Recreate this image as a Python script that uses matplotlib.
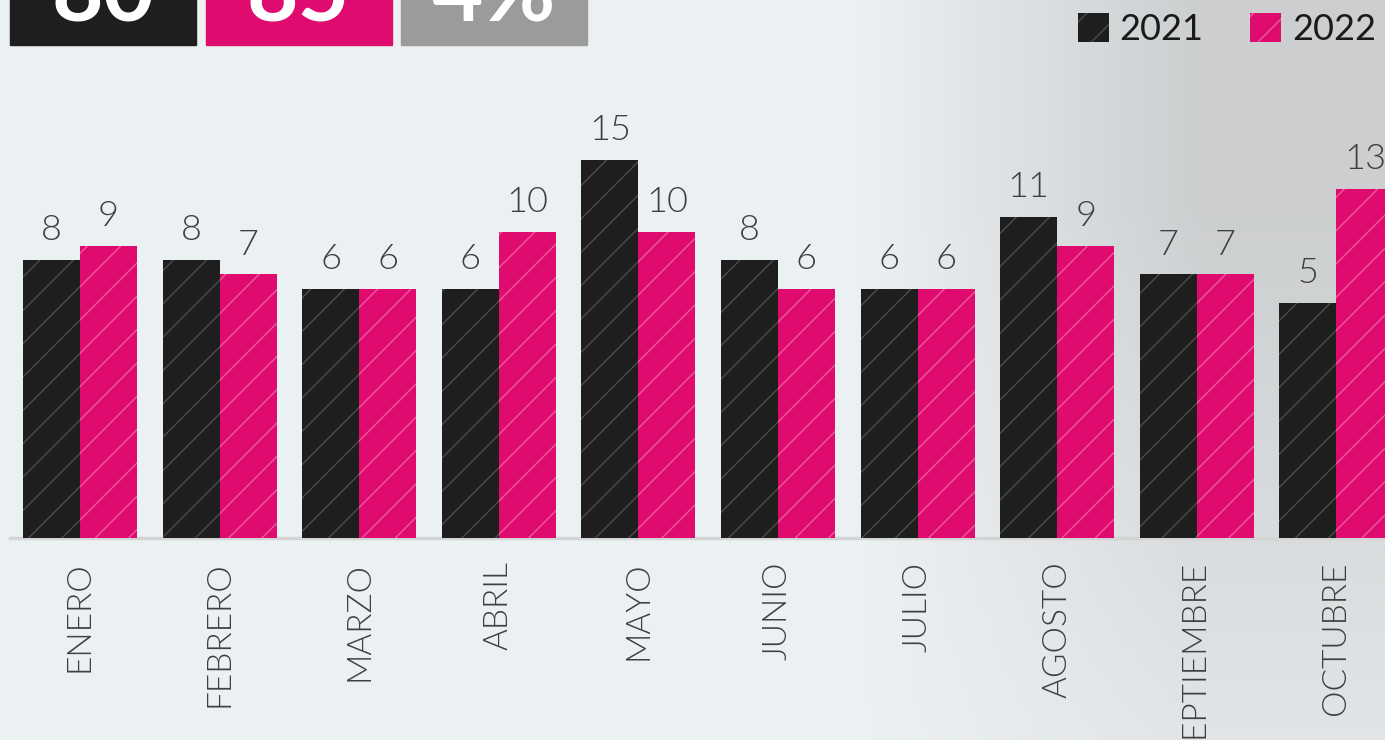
import numpy as np
import matplotlib
matplotlib.use("Agg")
import matplotlib.pyplot as plt
from matplotlib.patches import Patch, Rectangle

# ==========================================
# データ
# ==========================================
meses = ["ENERO", "FEBRERO", "MARZO", "ABRIL", "MAYO", "JUNIO",
         "JULIO", "AGOSTO", "SEPTIEMBRE", "OCTUBRE"]
valores_2021 = [8, 8, 6, 6, 15, 8, 6, 11, 7, 5]
valores_2022 = [9, 7, 6, 10, 10, 6, 6, 9, 7, 13]
series = ["2021", "2022"]

# 上部の集計ボックス
totales = ["80", "85", "4%"]
colores_caja = ["#1e1e1e", "#df0b6f", "#9b9b9b"]

NEGRO = "#1e1e1e"
ROSA = "#df0b6f"
TEXTO = "#3f3f3f"

plt.rcParams["font.family"] = ["Lato", "DejaVu Sans"]
plt.rcParams["hatch.linewidth"] = 1.0

W, H = 1385, 740
fig = plt.figure(figsize=(W / 100, H / 100), dpi=100)

# --- 背景（淡いグラデーション）---
bg = fig.add_axes([0, 0, 1, 1], zorder=-10)
xx, yy = np.meshgrid(np.linspace(0, 1, 300), np.linspace(0, 1, 160))
mix = np.clip((xx - 0.62) / 0.25, 0, 1) * np.clip(0.35 + 0.9 * yy, 0, 1)
c0 = np.array([0.925, 0.943, 0.953])
c1 = np.array([0.80, 0.81, 0.815])
img = c0 * (1 - mix[..., None]) + c1 * mix[..., None]
bg.imshow(img, extent=[0, 1, 0, 1], aspect="auto", origin="lower")
bg.axis("off")

# --- 棒グラフ ---
base = 538 / H
ax = fig.add_axes([0, 1 - base, 1, base])
ax.patch.set_alpha(0)
ymin, ymax = -11.43, 26.19
x = np.arange(len(meses))
w = 0.408

b1 = ax.bar(x - w / 2, np.array(valores_2021) - ymin, w, bottom=ymin,
            color=NEGRO, edgecolor="#4d4d4d", linewidth=0, hatch="/")
b2 = ax.bar(x + w / 2, np.array(valores_2022) - ymin, w, bottom=ymin,
            color=ROSA, edgecolor="#ee5a9e", linewidth=0, hatch="/")

ax.bar_label(b1, labels=[str(v) for v in valores_2021], padding=10,
             fontsize=26, color=TEXTO, fontweight=300)
ax.bar_label(b2, labels=[str(v) for v in valores_2022], padding=10,
             fontsize=26, color=TEXTO, fontweight=300)

ax.axhline(ymin, xmin=10 / W, xmax=1, color="#d4d4d4", lw=2.5, zorder=0,
           clip_on=False)

ax.set_xlim(-80 / 139.6, (W - 80) / 139.6)
ax.set_ylim(ymin, ymax)
ax.set_xticks(x)
ax.set_xticklabels(meses, rotation=90, fontsize=24, color=TEXTO,
                   fontweight=300)
ax.tick_params(axis="x", length=0, pad=17)
ax.set_yticks([])
for s in ax.spines.values():
    s.set_visible(False)

# --- 凡例 ---
handles = [Patch(facecolor=NEGRO, edgecolor="#4d4d4d", linewidth=0, hatch="/"),
           Patch(facecolor=ROSA, edgecolor="#ee5a9e", linewidth=0, hatch="/")]
ax.legend(handles, series, loc="upper right", ncol=2, frameon=False,
          bbox_to_anchor=(1376 / W, 1 - 13 / H), bbox_transform=fig.transFigure,
          fontsize=26, handlelength=0.85, handleheight=0.85,
          handletextpad=0.3, columnspacing=1.3, borderpad=0, borderaxespad=0,
          labelcolor="#1a1a1a")

# --- 上部ボックス ---
for i, (t, c) in enumerate(zip(totales, colores_caja)):
    x0 = 10 + i * 195.5
    fig.patches.append(Rectangle((x0 / W, 1 - 45 / H), 186 / W, 60 / H,
                                 transform=fig.transFigure, color=c, zorder=5))
    fig.text((x0 + 93) / W, 1 - 21 / H, t, ha="center", va="baseline",
             fontsize=64, fontweight="bold", color="white", zorder=6)

fig.savefig("out.png", dpi=100)
